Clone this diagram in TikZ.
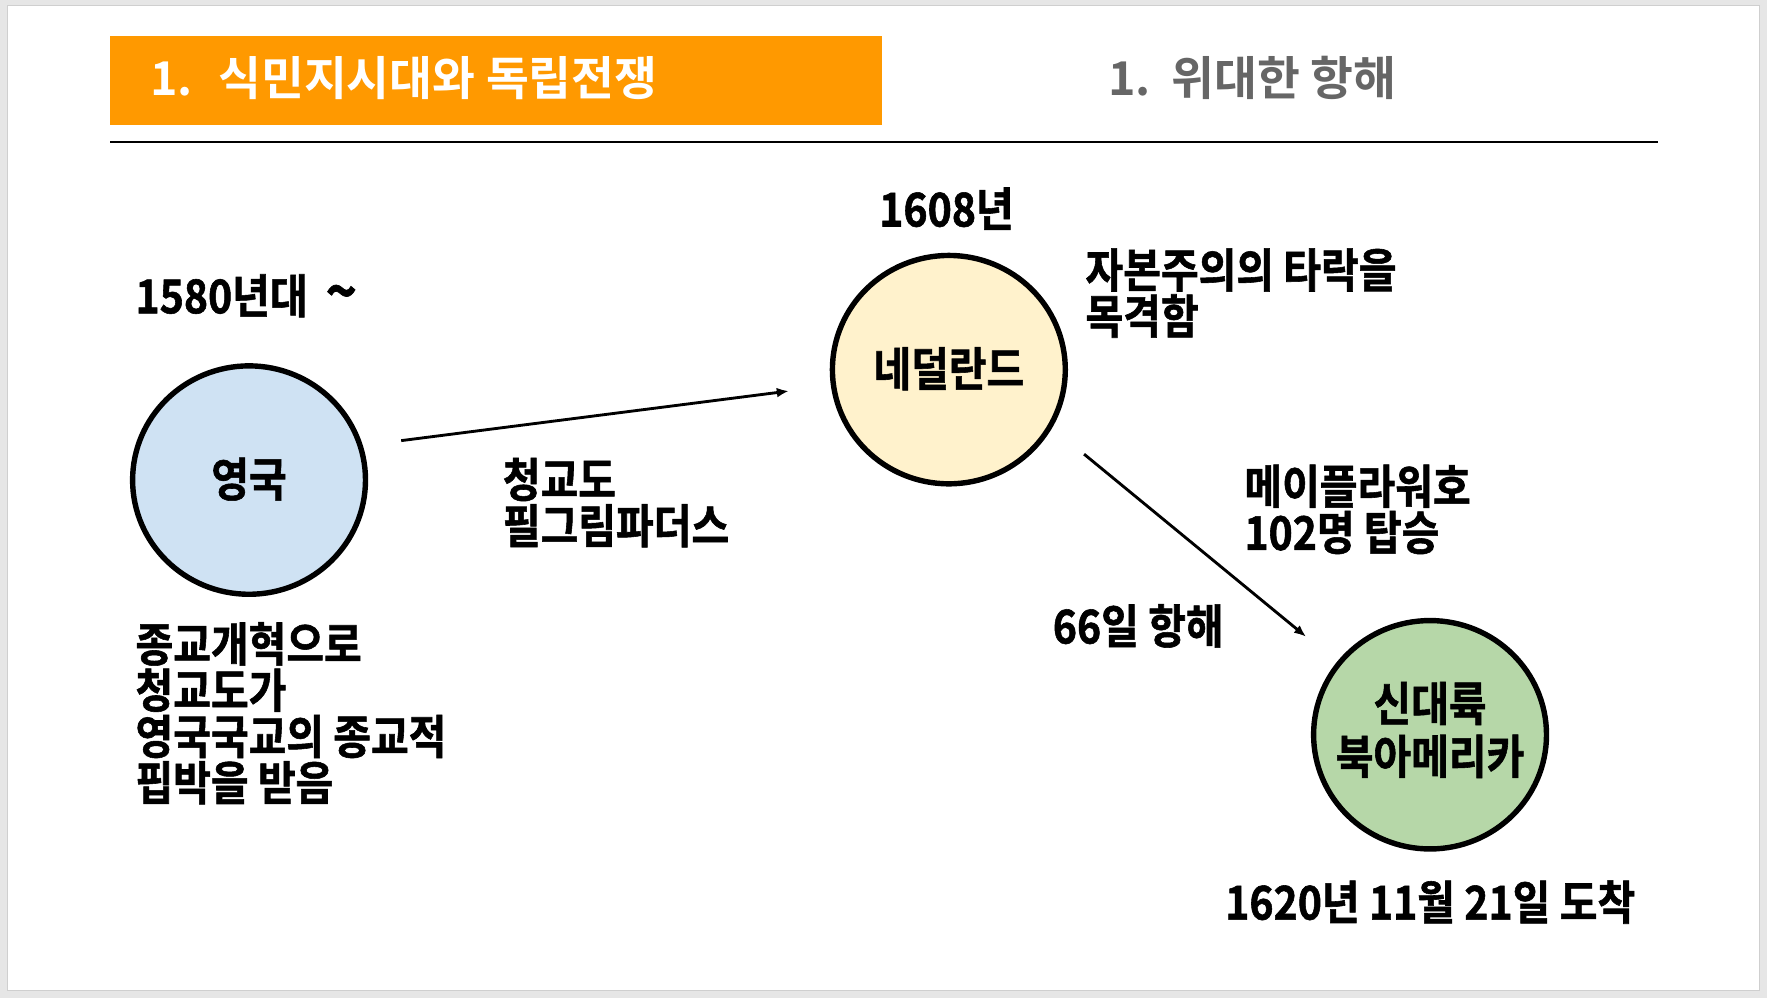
\documentclass[tikz,border=0pt]{standalone}
\usepackage{fontspec}
\usetikzlibrary{shapes.geometric,arrows.meta}
\newfontfamily\kr[FakeStretch=0.88,FakeBold=1.2]{Noto Sans CJK KR Bold}
\newfontfamily\krt[FakeStretch=1.0]{Noto Sans CJK KR Bold}
\definecolor{bggray}{HTML}{E6E6E6}
\definecolor{slideedge}{HTML}{CFCFCF}
\definecolor{orangeT}{HTML}{FF9900}
\definecolor{grayT}{HTML}{666666}
\definecolor{fillblue}{HTML}{CFE2F3}
\definecolor{fillyellow}{HTML}{FFF2CC}
\definecolor{fillgreen}{HTML}{B6D7A8}
\begin{document}
\begin{tikzpicture}[x=0.75pt,y=-0.75pt,
  lbl/.style={font=\kr\fontsize{31}{30.75}\selectfont, inner sep=0pt, align=left, anchor=base west},
  ttl/.style={font=\krt\fontsize{31}{30}\selectfont, inner sep=0pt, anchor=base west},
  bubble/.style={ellipse, draw=black, line width=3.6pt, minimum width=155pt, minimum height=152pt,
    inner sep=-30pt, font=\kr\fontsize{31}{30.75}\selectfont, align=center},
  link/.style={line width=1.9pt, -{Latex[length=8pt,width=6.5pt]}}]
\useasboundingbox (0,0) rectangle (1568,886);
\fill[bggray] (0,0) rectangle (1568,886);
\draw[fill=white, draw=slideedge, line width=0.8pt] (7,5) rectangle (1561,879);
% title bar
\node[fill=orangeT, inner sep=0pt, minimum width=513.75pt, minimum height=59.25pt] (titlebar) at (440.5,71.5) {};
\node[ttl, text=white] (title) at (133,85) {1.\hspace{17pt}식민지시대와 독립전쟁};
\node[ttl, text=grayT] (subtitle) at (983,85) {1.\hspace{14pt}위대한 항해};
\draw[line width=1.5pt] (98,126) -- (1471,126);
% circles
\node[bubble, fill=fillblue] (uk) at (221,426) {\raisebox{4pt}{영국}};
\node[bubble, fill=fillyellow] (nl) at (842,328) {\raisebox{4pt}{네덜란드}};
\node[bubble, fill=fillgreen] (na) at (1269,652)
  {\raisebox{5pt}{\begin{tabular}{@{}c@{}}신대륙\\북아메리카\end{tabular}}};
% labels (base = baseline of the last line)
\node[lbl] (t1580) at (120,278) {1580년대\hspace{12pt}{\fontsize{40}{40}\selectfont\textasciitilde}};
\node[lbl] (pilgrim) at (446,482) {청교도\\필그림파더스};
\node[lbl] (reform) at (120,710) {종교개혁으로\\청교도가\\영국국교의 종교적\\핍박을 받음};
\node[lbl] (t1608) at (780,201) {1608년};
\node[lbl] (capital) at (963,296) {자본주의의 타락을\\목격함};
\node[lbl] (mayflower) at (1104,488) {메이플라워호\\102명 탑승};
\node[lbl] (days) at (934,571) {66일 항해};
\node[lbl] (arrive) at (1087,816) {1620년 11월 21일 도착};
% arrows
\coordinate (a1s) at (356,391);
\coordinate (a1e) at (700,347);
\coordinate (a2s) at (962,403);
\coordinate (a2e) at (1159,565);
\draw[link] (a1s) -- (a1e);
\draw[link] (a2s) -- (a2e);
\end{tikzpicture}
\end{document}
